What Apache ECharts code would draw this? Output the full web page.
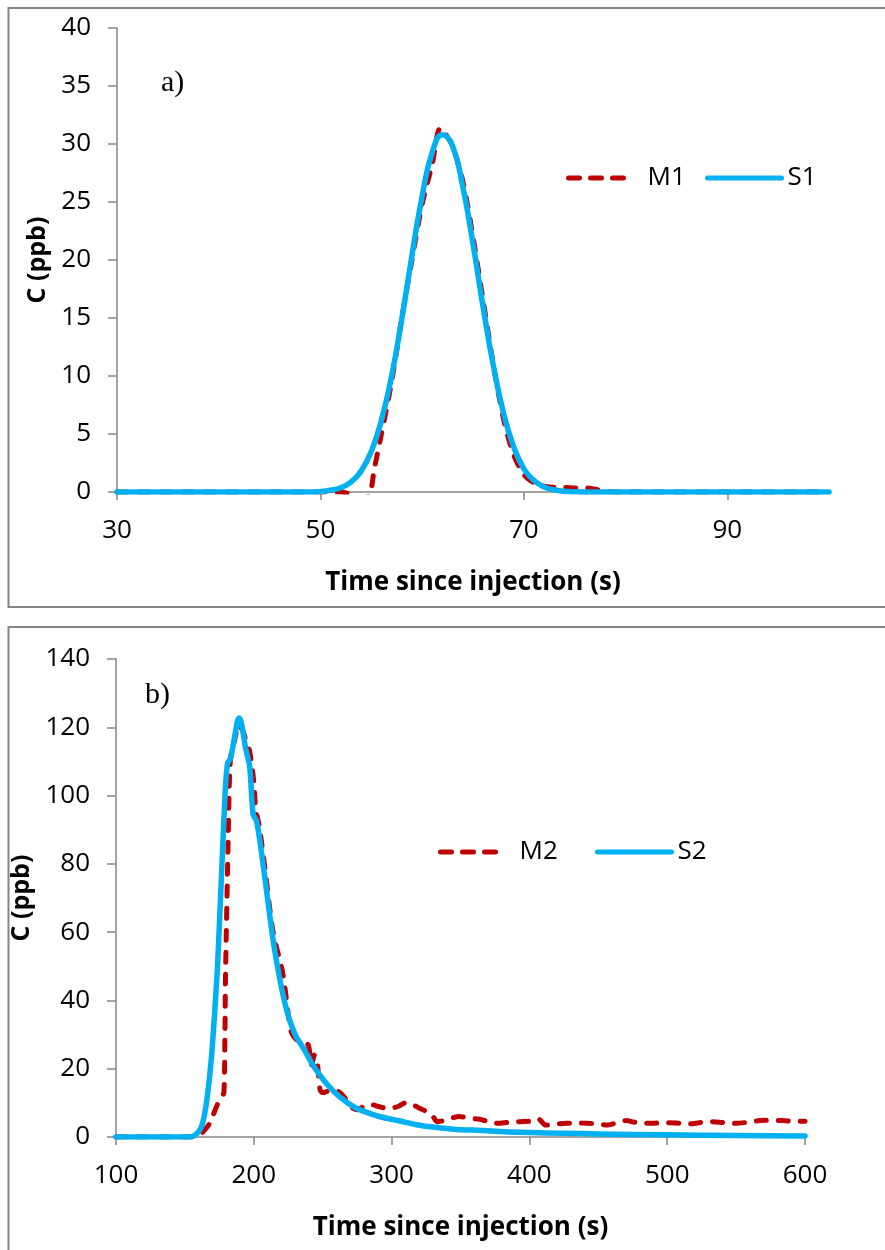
<!DOCTYPE html>
<html>
<head>
<meta charset="utf-8">
<script src="https://cdn.jsdelivr.net/npm/echarts@6/dist/echarts.min.js"></script>
<style>
  html, body { margin: 0; padding: 0; background: #fff; }
  #chart { width: 885px; height: 1250px; }
</style>
</head>
<body>
<div id="chart"></div>
<script>
// Panel a) – measured (M1) and simulated (S1) concentration, time in s, C in ppb
const m1Time = [30, 50, 52, 53, 54, 54.8, 55.3, 56, 57, 58, 59, 60, 61, 61.8, 62.5, 63, 64, 65, 66, 67, 68, 69, 70, 71, 72, 73, 74, 75, 76, 77, 78, 80, 100];
const m1Conc = [0, 0, 0, -0.2, -0.5, -0.3, 2, 5, 9.5, 15, 20, 24.8, 28.3, 31.4, 30.6, 29.8, 26.8, 22, 16.5, 11, 6.3, 3.2, 1.5, 0.8, 0.5, 0.4, 0.4, 0.35, 0.35, 0.25, 0.05, 0, 0];
const s1Time = [30, 49, 50, 51, 52, 53, 54, 55, 56, 57, 58, 59, 60, 61, 62, 63, 64, 65, 66, 67, 68, 69, 70, 71, 72, 73, 74, 75, 76, 100];
const s1Conc = [0, 0, 0.05, 0.15, 0.37, 0.86, 1.8, 3.5, 6.2, 10.0, 14.9, 20.4, 25.5, 29.3, 30.8, 29.8, 26.3, 21.4, 15.9, 10.9, 6.8, 3.9, 2.0, 0.99, 0.44, 0.18, 0.07, 0.02, 0, 0];

// Panel b) – measured (M2) and simulated (S2)
const m2Time = [100, 150, 158, 163, 168, 172, 175, 177, 178.3, 179, 179.5, 181.4, 182.6, 184, 186, 189, 192, 195, 197, 200, 201.5, 202.5, 204, 208, 214, 221, 227, 231, 236, 239.5, 242, 244, 246, 248, 250, 255, 260, 265, 270, 275, 280, 285, 290, 295, 300, 305, 310, 315, 320, 325, 330, 333, 340, 349, 356, 364, 370, 376, 385, 393, 400, 406, 412, 420, 427, 435, 441, 450, 457, 465, 470, 477, 485, 493, 501, 510, 518, 525, 533, 541, 550, 558, 567, 575, 584, 592, 600];
const m2Conc = [0, 0, 0, 1.5, 4, 8, 10.8, 12, 13, 28, 48, 87, 108, 113, 116, 120.5, 119, 115, 113, 104, 95, 93.8, 91, 79, 60, 48, 31, 28.5, 27.5, 27, 21, 24, 22, 14, 13, 13.5, 13.5, 12, 9, 8, 9, 9.5, 9, 8.5, 8.5, 9, 10, 9.5, 8.5, 7.5, 6, 4.5, 5, 6, 5.5, 5.2, 4.5, 4.0, 4.3, 4.5, 4.6, 5.4, 3.5, 3.8, 4.0, 4.1, 4.0, 3.8, 3.5, 4.5, 4.8, 4.3, 4.0, 4.1, 4.2, 4.0, 3.9, 4.3, 4.5, 4.2, 4.0, 4.3, 4.8, 4.9, 4.8, 4.6, 4.6];
const s2Time = [100, 150, 154, 156, 158, 160, 162, 164, 166, 168, 170, 173.4, 175, 176.8, 178, 179.5, 181, 183, 186, 188, 189.3, 190.5, 192, 194, 197, 199.5, 202, 205, 208, 214, 219, 224, 230, 236, 243, 253, 263, 274, 285, 294, 306, 318, 330, 345, 366, 385, 400, 425, 450, 500, 550, 600];
const s2Conc = [0, 0, 0.05, 0.3, 0.8, 1.6, 3, 6, 11, 18, 27, 48, 62, 79, 90, 103, 109.5, 110.8, 117, 121.5, 122.7, 122, 119, 114, 108.5, 94.5, 92.5, 85, 76, 57.7, 46, 37, 30, 26, 21, 15.5, 11.5, 8.5, 6.8, 5.7, 4.7, 3.6, 2.9, 2.3, 1.9, 1.5, 1.3, 1.1, 0.9, 0.65, 0.45, 0.3];

// Axis ticks
const aTimeTicks = [30, 50, 70, 90];
const aConcTicks = [0, 5, 10, 15, 20, 25, 30, 35, 40];
const bTimeTicks = [100, 200, 300, 400, 500, 600];
const bConcTicks = [0, 20, 40, 60, 80, 100, 120, 140];

const RED = '#C00000';
const BLUE = '#00B0F0';
const AXIS_GREY = '#868686';
const FONT = 'Open Sans';
const DASH = [10, 12];

const pair = (xs, ys) => xs.map((x, i) => [x, ys[i]]);

function xAxisFor(gridIndex, min, max, interval, ticks) {
  return {
    type: 'value', gridIndex, min, max, interval,
    name: 'Time since injection (s)',
    nameLocation: 'middle', nameGap: 78,
    nameTextStyle: { fontFamily: FONT, fontWeight: 'bold', fontSize: 26, color: '#000' },
    axisLine: { show: true, onZero: false, lineStyle: { color: AXIS_GREY, width: 1.5 } },
    axisTick: { show: true, length: 8, customValues: ticks, lineStyle: { color: AXIS_GREY, width: 1.5 } },
    axisLabel: { customValues: ticks, margin: 26, fontFamily: FONT, fontSize: 26, color: '#000' },
    splitLine: { show: false }
  };
}
function yAxisFor(gridIndex, min, max, interval, ticks) {
  return {
    type: 'value', gridIndex, min, max, interval,
    name: 'C (ppb)',
    nameLocation: 'middle', nameGap: 64,
    nameTextStyle: { fontFamily: FONT, fontWeight: 'bold', fontSize: 25, color: '#000' },
    axisLine: { show: true, lineStyle: { color: AXIS_GREY, width: 1.5 } },
    axisTick: { show: true, length: 9, customValues: ticks, lineStyle: { color: AXIS_GREY, width: 1.5 } },
    axisLabel: { customValues: ticks, margin: 26, fontFamily: FONT, fontSize: 26, color: '#000' },
    splitLine: { show: false }
  };
}
function measured(name, xi, data) {
  return {
    name, type: 'line', xAxisIndex: xi, yAxisIndex: xi, data,
    symbol: 'none', smooth: 0.3, z: 2,
    lineStyle: { color: RED, width: 5, type: DASH, cap: 'round', join: 'round' },
    itemStyle: { color: RED }
  };
}
function simulated(name, xi, data, smooth) {
  return {
    name, type: 'line', xAxisIndex: xi, yAxisIndex: xi, data,
    symbol: 'none', smooth, z: 3,
    lineStyle: { color: BLUE, width: 5.5, cap: 'round', join: 'round' },
    itemStyle: { color: BLUE }
  };
}
function legendItem(name, left, top, width, pad, color, dashed) {
  return {
    data: [name], left, top, orient: 'horizontal',
    itemWidth: width, itemHeight: 14, itemGap: 0,
    itemStyle: { opacity: 0 },
    lineStyle: { color, width: 5, type: dashed ? [11, 11] : 'solid', cap: 'round' },
    textStyle: { fontFamily: FONT, fontSize: 26, color: '#000', padding: [0, 0, 0, pad] },
    selectedMode: false
  };
}

const chart = echarts.init(document.getElementById('chart'), null, { renderer: 'canvas' });
chart.setOption({
  backgroundColor: '#fff',
  animation: false,
  graphic: [
    { type: 'rect', shape: { x: 8.5, y: 8, width: 900, height: 599 }, style: { fill: 'none', stroke: AXIS_GREY, lineWidth: 2 }, silent: true },
    { type: 'rect', shape: { x: 8.5, y: 627, width: 900, height: 640 }, style: { fill: 'none', stroke: AXIS_GREY, lineWidth: 2 }, silent: true },
    { type: 'text', left: 161, top: 68, style: { text: 'a)', font: '30px "Liberation Serif"', fill: '#000' } },
    { type: 'text', left: 145, top: 680, style: { text: 'b)', font: '30px "Liberation Serif"', fill: '#000' } }
  ],
  grid: [
    { left: 117, top: 28, width: 712, height: 464 },
    { left: 116, top: 659, width: 689, height: 478 }
  ],
  xAxis: [
    xAxisFor(0, 30, 100, 20, aTimeTicks),
    xAxisFor(1, 100, 600, 100, bTimeTicks)
  ],
  yAxis: [
    yAxisFor(0, 0, 40, 5, aConcTicks),
    yAxisFor(1, 0, 140, 20, bConcTicks)
  ],
  legend: [
    legendItem('M1', 561, 160, 64, 10, RED, true),
    legendItem('S1', 700, 160, 74, 1, BLUE, false),
    legendItem('M2', 433, 834, 64, 10, RED, true),
    legendItem('S2', 590, 834, 74, 1, BLUE, false)
  ],
  series: [
    measured('M1', 0, pair(m1Time, m1Conc)),
    simulated('S1', 0, pair(s1Time, s1Conc), 0.5),
    measured('M2', 1, pair(m2Time, m2Conc)),
    simulated('S2', 1, pair(s2Time, s2Conc), 0.25)
  ]
});
</script>
</body>
</html>
